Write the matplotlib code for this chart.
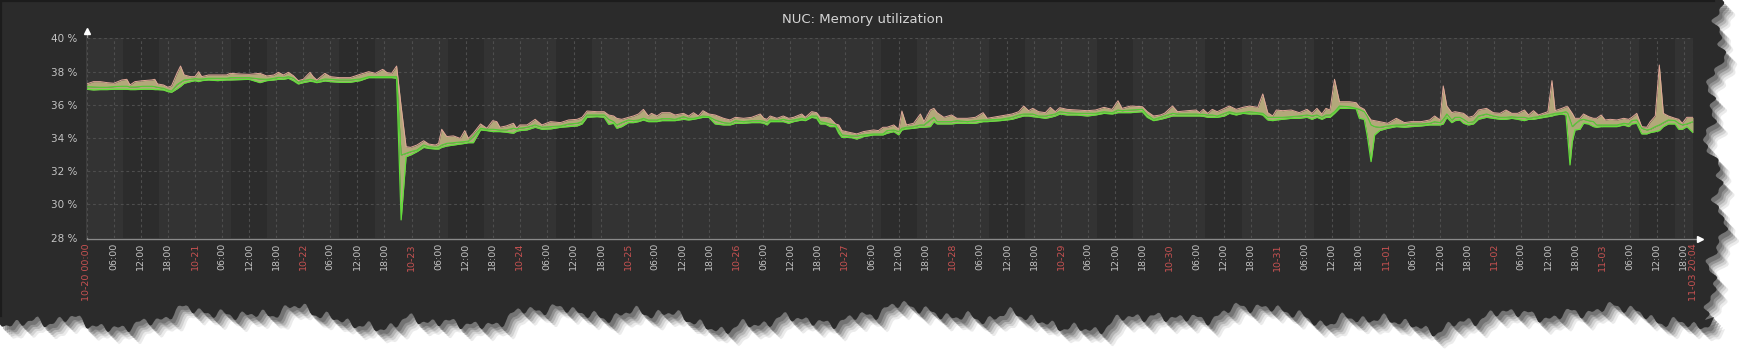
import numpy as np
import pandas as pd
import matplotlib
matplotlib.use('Agg')
import matplotlib.pyplot as plt
from matplotlib.patches import Polygon


TITLE = 'NUC: Memory utilization'
START = '2014-10-20 00:00'
END_HOUR = 356 + 4 / 60          # 11-03 20:04
END_LABEL = '11-03 20:04'
WORKDAYS = (0, 1, 2, 3, 4, 7, 8, 9, 10, 11, 14)   # Mon-Fri, 08:00-16:00 band
Y_TICKS = (28, 30, 32, 34, 36, 38, 40)

# hours since 10-20 00:00
HOURS = [0, 1.5, 3, 4.5, 6, 7.8, 8.9, 9.6, 10.7, 12.5,
         14.4, 15.1, 15.7, 17, 18, 18.8, 20, 20.8, 21.6, 23,
         24, 24.8, 25.5, 27, 29, 31, 31.8, 34, 36, 38.4,
         39.9, 41.5, 42.5, 43.6, 44.7, 45.8, 46.9, 48, 49.5, 50.2,
         51, 52.8, 54, 56, 58.4, 60.6, 62.5, 64, 65.6, 66.6,
         67.6, 68.7, 69.7, 70.8, 71.8, 73.2, 74.7, 75.8, 77.3, 78,
         78.7, 79.8, 81.3, 82.8, 83.8, 84.6, 85.7, 87.3, 88.7, 90,
         90.9, 91.6, 93, 94.6, 95.3, 96, 97.6, 99.4, 100.9, 102.8,
         105, 106.8, 108.7, 109.8, 110.9, 113.1, 114.7, 115.7, 116.8, 117.5,
         118.6, 120.1, 121.2, 122.3, 123.4, 124.5, 125.2, 126.4, 127.5, 129.3,
         130.4, 132.3, 133.4, 134.5, 135.6, 136.6, 137.9, 139.3, 141.2, 142.6,
         143.8, 145.6, 147.4, 149.3, 150.1, 150.8, 151.5, 153, 154.4, 155.6,
         156.7, 158.5, 159.3, 160.7, 161.8, 162.6, 163.7, 164.8, 166, 166.7,
         167.4, 169.3, 170.7, 172.2, 174.4, 175.5, 176.5, 177.4, 178.9, 180,
         180.7, 181.7, 183.3, 184.8, 185.6, 187, 187.8, 188.5, 190, 191.7,
         192.9, 195.2, 197, 198.7, 199.6, 202.5, 205.1, 206.6, 207.7, 208.8,
         209.7, 211, 212.5, 213.6, 214.7, 215.7, 217.3, 219.5, 221.8, 223.6,
         225.5, 227.3, 228.6, 229.5, 231.4, 234, 235.1, 236.5, 238, 238.9,
         240.7, 241.8, 244, 245.9, 246.7, 247.5, 248.5, 249.5, 250.6, 252.2,
         253.3, 254.8, 256.3, 257.7, 259.6, 260.7, 261.8, 262.9, 263.7, 265.1,
         267, 268.8, 270.5, 271.6, 272.7, 273.8, 274.7, 275.6, 276.6, 277.7,
         279.9, 281.4, 282.1, 283.2, 283.9, 284.7, 285.5, 286.6, 288.4, 290.3,
         292.1, 293.6, 295.8, 297.7, 298.8, 300, 300.7, 301.5, 302.6, 303.3,
         304.4, 305.2, 306.3, 307.4, 308.5, 310.3, 311.8, 313.3, 314.6, 315.9,
         317.2, 318.7, 319.6, 320.7, 321.8, 323.9, 324.8, 325.5, 327, 327.9,
         328.3, 328.8, 329.3, 329.9, 331, 331.8, 332.9, 334, 334.7, 335.7,
         336.6, 337.7, 339.2, 340.7, 341.8, 342.5, 343.6, 344.7, 345.8, 346.6,
         347.7, 348.6, 349.5, 350.6, 352.1, 352.9, 353.7, 354.7, 356.07]

MAX = [37.25, 37.39, 37.39, 37.33, 37.29, 37.49, 37.53, 37.19, 37.39, 37.45,
       37.49, 37.53, 37.25, 37.19, 37.05, 37.13, 37.89, 38.33, 37.79, 37.69,
       37.69, 37.99, 37.69, 37.79, 37.79, 37.79, 37.89, 37.85, 37.83, 37.89,
       37.73, 37.79, 37.95, 37.79, 37.95, 37.75, 37.45, 37.53, 37.95, 37.69,
       37.49, 37.89, 37.69, 37.63, 37.63, 37.83, 37.99, 37.89, 38.13, 37.93,
       37.89, 38.33, 35.9, 33.47, 33.43, 33.57, 33.83, 33.63, 33.57, 33.67,
       34.52, 34.08, 34.12, 33.97, 34.44, 33.97, 34.28, 34.84, 34.58, 35.04,
       34.98, 34.64, 34.72, 34.88, 34.58, 34.78, 34.78, 35.12, 34.78, 34.98,
       34.92, 35.08, 35.12, 35.24, 35.62, 35.58, 35.58, 35.38, 35.32, 35.18,
       35.12, 35.24, 35.32, 35.44, 35.72, 35.32, 35.48, 35.32, 35.52, 35.52,
       35.38, 35.48, 35.32, 35.52, 35.32, 35.64, 35.44, 35.38, 35.18, 35.08,
       35.24, 35.18, 35.24, 35.44, 35.18, 35.12, 35.32, 35.18, 35.32, 35.18,
       35.24, 35.44, 35.24, 35.58, 35.52, 35.24, 35.24, 35.18, 34.84, 34.78,
       34.44, 34.32, 34.24, 34.38, 34.48, 34.44, 34.64, 34.64, 34.78, 34.52,
       35.62, 34.78, 34.88, 35.44, 34.98, 35.68, 35.78, 35.52, 35.24, 35.38,
       35.18, 35.18, 35.24, 35.52, 35.18, 35.32, 35.44, 35.58, 35.92, 35.64,
       35.78, 35.58, 35.52, 35.84, 35.58, 35.82, 35.72, 35.68, 35.64, 35.68,
       35.84, 35.72, 36.24, 35.78, 35.92, 35.88, 35.58, 35.32, 35.38, 35.48,
       35.92, 35.58, 35.64, 35.68, 35.52, 35.72, 35.48, 35.72, 35.58, 35.78,
       35.92, 35.72, 35.84, 35.92, 35.84, 36.65, 35.52, 35.32, 35.68, 35.64,
       35.68, 35.52, 35.72, 35.48, 35.78, 35.44, 35.78, 35.68, 37.53, 36.18,
       36.18, 36.12, 35.88, 35.72, 35.38, 35.08, 35.04, 34.98, 34.88, 35.18,
       34.92, 34.98, 34.98, 35.08, 35.32, 35.08, 37.13, 35.92, 35.52, 35.58,
       35.52, 35.48, 35.24, 35.32, 35.68, 35.78, 35.52, 35.48, 35.68, 35.48,
       35.48, 35.68, 35.38, 35.64, 35.38, 35.58, 37.45, 35.64, 35.78, 35.88,
       35.88, 35.68, 35.48, 35.18, 35.18, 35.44, 35.28, 35.18, 35.18, 35.38,
       35.08, 35.12, 35.08, 35.18, 35.12, 35.24, 35.48, 34.68, 34.64, 34.98,
       35.32, 38.39, 35.48, 35.32, 35.18, 35.12, 34.88, 35.24, 35.24]

AVG = [37.09, 37.07, 37.05, 37.05, 37.09, 37.11, 37.11, 37.07, 37.07, 37.11,
       37.11, 37.09, 37.05, 36.99, 36.89, 36.82, 37.2, 37.35, 37.49, 37.53,
       37.57, 37.55, 37.55, 37.59, 37.59, 37.59, 37.63, 37.63, 37.63, 37.55,
       37.53, 37.59, 37.65, 37.63, 37.69, 37.6, 37.35, 37.45, 37.53, 37.49,
       37.41, 37.55, 37.53, 37.49, 37.49, 37.55, 37.69, 37.69, 37.69, 37.69,
       37.69, 37.69, 32.97, 33.07, 33.17, 33.27, 33.57, 33.47, 33.43, 33.45,
       33.57, 33.67, 33.71, 33.75, 33.78, 33.81, 34.08, 34.58, 34.52, 34.52,
       34.5, 34.48, 34.48, 34.58, 34.54, 34.58, 34.64, 34.78, 34.64, 34.68,
       34.72, 34.84, 34.88, 34.98, 35.38, 35.38, 35.38, 35.12, 34.98, 34.78,
       34.92, 35.08, 35.04, 35.08, 35.18, 35.08, 35.08, 35.08, 35.16, 35.16,
       35.12, 35.28, 35.18, 35.18, 35.24, 35.32, 35.28, 35.08, 34.92, 34.88,
       35.04, 34.98, 35.04, 35.04, 35.0, 34.92, 35.08, 35.04, 35.12, 35.04,
       35.08, 35.18, 35.12, 35.32, 35.32, 34.98, 34.92, 34.84, 34.78, 34.48,
       34.18, 34.12, 34.12, 34.18, 34.24, 34.24, 34.24, 34.44, 34.48, 34.38,
       34.58, 34.64, 34.68, 34.78, 34.78, 35.08, 35.24, 34.98, 34.98, 34.98,
       35.04, 34.98, 35.04, 35.08, 35.08, 35.12, 35.24, 35.38, 35.44, 35.44,
       35.44, 35.32, 35.32, 35.38, 35.44, 35.58, 35.52, 35.48, 35.48, 35.48,
       35.58, 35.52, 35.68, 35.64, 35.68, 35.72, 35.38, 35.12, 35.24, 35.32,
       35.48, 35.44, 35.44, 35.44, 35.42, 35.42, 35.38, 35.38, 35.32, 35.48,
       35.58, 35.48, 35.52, 35.58, 35.52, 35.48, 35.24, 35.24, 35.24, 35.24,
       35.28, 35.32, 35.38, 35.32, 35.38, 35.24, 35.38, 35.38, 35.58, 35.92,
       35.88, 35.78, 35.72, 35.58, 35.28, 34.78, 34.68, 34.64, 34.72, 34.78,
       34.78, 34.84, 34.84, 34.88, 34.98, 34.92, 35.12, 35.44, 35.08, 35.24,
       35.24, 35.12, 34.92, 34.98, 35.32, 35.44, 35.32, 35.24, 35.24, 35.28,
       35.24, 35.24, 35.18, 35.24, 35.28, 35.38, 35.44, 35.48, 35.52, 35.58,
       35.48, 35.08, 34.68, 34.84, 35.08, 35.12, 35.04, 34.98, 34.78, 34.78,
       34.78, 34.78, 34.78, 34.88, 34.84, 35.04, 35.08, 34.58, 34.48, 34.52,
       34.68, 34.78, 34.92, 35.08, 35.04, 34.88, 34.78, 34.84, 34.98]

MIN = [36.93, 36.89, 36.91, 36.91, 36.93, 36.93, 36.93, 36.91, 36.91, 36.93,
       36.93, 36.91, 36.91, 36.89, 36.79, 36.75, 36.95, 37.1, 37.29, 37.39,
       37.45, 37.39, 37.45, 37.49, 37.45, 37.49, 37.49, 37.51, 37.53, 37.33,
       37.45, 37.49, 37.53, 37.53, 37.59, 37.45, 37.25, 37.33, 37.41, 37.39,
       37.33, 37.43, 37.39, 37.35, 37.35, 37.45, 37.63, 37.63, 37.63, 37.63,
       37.63, 37.59, 29.06, 32.87, 32.97, 33.17, 33.43, 33.37, 33.33, 33.33,
       33.43, 33.51, 33.57, 33.63, 33.67, 33.71, 33.71, 34.48, 34.44, 34.38,
       34.38, 34.38, 34.34, 34.28, 34.4, 34.44, 34.48, 34.64, 34.52, 34.54,
       34.64, 34.68, 34.72, 34.84, 35.24, 35.28, 35.24, 34.82, 34.88, 34.58,
       34.68, 34.92, 34.92, 34.98, 35.08, 34.98, 34.98, 34.98, 35.04, 35.04,
       35.04, 35.12, 35.08, 35.12, 35.18, 35.24, 35.24, 34.84, 34.78, 34.78,
       34.88, 34.88, 34.92, 34.92, 34.88, 34.78, 34.98, 34.98, 34.98, 34.88,
       34.98, 35.08, 35.04, 35.24, 35.18, 34.84, 34.84, 34.68, 34.68, 34.28,
       34.03, 34.03, 33.93, 34.08, 34.18, 34.18, 34.18, 34.28, 34.38, 34.18,
       34.48, 34.54, 34.58, 34.64, 34.64, 34.68, 34.98, 34.84, 34.84, 34.84,
       34.88, 34.88, 34.88, 34.98, 34.98, 35.04, 35.12, 35.24, 35.32, 35.32,
       35.28, 35.24, 35.18, 35.24, 35.32, 35.44, 35.38, 35.38, 35.32, 35.38,
       35.48, 35.44, 35.52, 35.52, 35.52, 35.58, 35.24, 35.04, 35.12, 35.18,
       35.32, 35.32, 35.32, 35.32, 35.32, 35.3, 35.24, 35.24, 35.24, 35.32,
       35.48, 35.38, 35.48, 35.44, 35.44, 35.38, 35.08, 35.04, 35.08, 35.12,
       35.18, 35.18, 35.24, 35.12, 35.24, 35.12, 35.24, 35.24, 35.48, 35.78,
       35.78, 35.76, 35.18, 35.12, 34.08, 32.57, 34.18, 34.44, 34.58, 34.68,
       34.64, 34.68, 34.72, 34.78, 34.78, 34.78, 34.84, 35.24, 34.92, 35.04,
       35.08, 34.88, 34.78, 34.84, 35.12, 35.24, 35.18, 35.12, 35.12, 35.18,
       35.12, 35.04, 35.12, 35.12, 35.18, 35.28, 35.32, 35.38, 35.44, 35.38,
       34.08, 32.37, 33.77, 34.48, 34.52, 34.88, 34.84, 34.68, 34.64, 34.68,
       34.68, 34.68, 34.68, 34.78, 34.68, 34.84, 34.88, 34.24, 34.24, 34.32,
       34.38, 34.44, 34.68, 34.84, 34.84, 34.52, 34.52, 34.68, 34.32]

W, H = 1747, 354
BG = '#2b2b2b'
PLOT_BG = '#333333'
BAND = '#2c2c2c'
GRID = '#4e4e4e'
TEXT = '#c4c4c4'
DATE = '#c85252'


if __name__ == "__main__":

    fig = plt.figure(figsize=(W / 100, H / 100), dpi=100)
    fig.patch.set_facecolor('white')

    # torn paper background
    bg = fig.add_axes([0, 0, 1, 1])
    bg.set_xlim(0, W)
    bg.set_ylim(H, 0)
    bg.axis('off')

    xs = np.arange(0, 1716, 2.0)
    bottom = (318 + 7 * np.sin(xs / 53) + 5 * np.sin(xs / 19 + 1.3)
              + 4 * np.sin(xs / 7.1 + 0.7) * np.sin(xs / 37)
              + 3 * np.sin(xs / 3.3) + 2 * np.sin(xs / 1.7 + 1))
    ys = np.arange(0, 322, 2.0)
    right = (1715 + 6 * np.sin(ys / 29 + 0.5) + 5 * np.sin(ys / 9.3 + 2)
             + 4 * np.sin(ys / 4.1) * np.sin(ys / 23) + 2 * np.sin(ys / 1.9))
    edge = [(0, 0)] + list(zip(right, ys)) + list(zip(xs[::-1], bottom[::-1]))
    edge = np.array(edge)

    for dx, dy, a in ((11, 12, 0.10), (9, 10, 0.14), (7, 8, 0.2),
                      (5, 6, 0.28), (3, 4, 0.35)):
        bg.add_patch(Polygon(edge + [dx, dy], closed=True, color='#3c3c3c',
                             alpha=a, lw=0))
    bg.add_patch(Polygon(edge, closed=True, color=BG, lw=0))
    bg.plot([0, 1714], [0.8, 0.8], color='#1c1c1c', lw=1.6)
    bg.plot([0.8, 0.8], [0, 316], color='#1c1c1c', lw=1.6)

    # plot area
    left_px, right_px, top_px, bot_px = 86.7, 1693, 38.3, 237.5
    ax = fig.add_axes([left_px / W, 1 - bot_px / H,
                       (right_px - left_px) / W, (bot_px - top_px) / H])
    ax.set_facecolor(PLOT_BG)
    ax.set_xlim(0, END_HOUR)
    ax.set_ylim(28, 40)

    for d in WORKDAYS:
        ax.axvspan(d * 24 + 8, min(d * 24 + 16, END_HOUR), color=BAND, lw=0, zorder=0)

    stamps = pd.date_range(START, periods=int(END_HOUR // 6) + 1, freq='6h')
    ticks = [(s - stamps[0]).total_seconds() / 3600 for s in stamps]
    labels = []
    for s in stamps:
        if s == stamps[0]:
            labels.append(s.strftime('%m-%d %H:%M'))
        elif s.hour == 0:
            labels.append(s.strftime('%m-%d'))
        else:
            labels.append(s.strftime('%H:%M'))
    ticks.append(END_HOUR)
    labels.append(END_LABEL)

    ax.set_xticks(ticks)
    ax.set_xticklabels(labels, rotation=90, fontsize=6.8)
    for t, lab in zip(ax.get_xticklabels(), labels):
        t.set_color(DATE if '-' in lab else TEXT)
    ax.set_yticks(Y_TICKS)
    ax.set_yticklabels([f'{v} %' for v in Y_TICKS], fontsize=7.5, color=TEXT)
    ax.tick_params(length=0)
    ax.tick_params(axis='x', pad=4)
    ax.tick_params(axis='y', pad=7)
    ax.grid(color=GRID, linestyle=(0, (2.5, 2.5)), linewidth=0.8)
    ax.set_axisbelow(True)

    for side in ('top', 'right', 'left', 'bottom'):
        ax.spines[side].set_visible(False)

    # min / avg / max
    ax.fill_between(HOURS, AVG, MAX, color='#b3a87a', lw=0, zorder=3)
    ax.fill_between(HOURS, MIN, AVG, color='#aaae76', lw=0, zorder=3)
    ax.plot(HOURS, MAX, color='#e2a899', lw=0.7, zorder=4)
    ax.plot(HOURS, MIN, color='#62e03a', lw=0.9, zorder=4)
    ax.plot(HOURS, AVG, color='#52cc34', lw=0.8, zorder=5)

    # axes lines with arrows
    bg.plot([left_px, left_px], [bot_px + 1, top_px - 5], color='#8a8a8a', lw=1)
    bg.plot([left_px, right_px + 6], [bot_px + 1, bot_px + 1], color='#8a8a8a', lw=1)
    bg.plot(left_px, top_px - 7, marker='^', color='white', ms=4)
    bg.plot(right_px + 7, bot_px + 1, marker='>', color='white', ms=4)

    fig.text(863 / W, 1 - 20 / H, TITLE, ha='center', va='center',
             color='#d6d6d6', fontsize=9.5)

    plt.savefig('out.png', dpi=100, facecolor='white')
